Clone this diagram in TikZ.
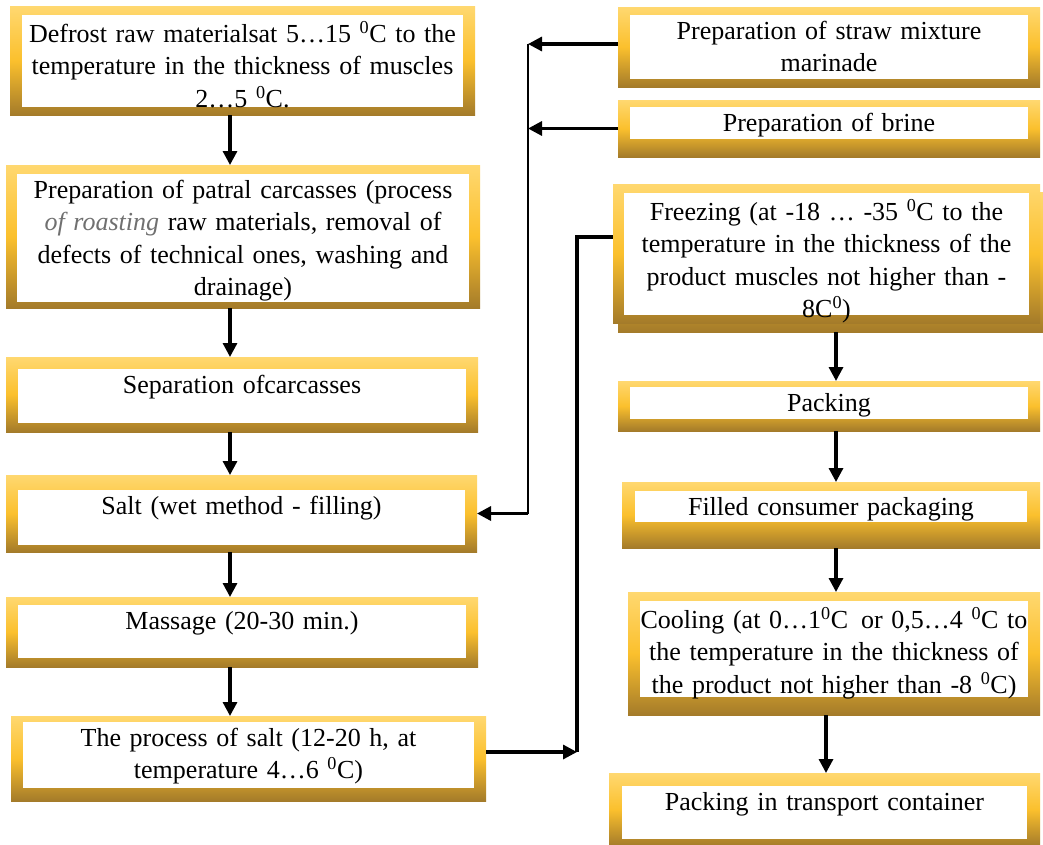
\documentclass[tikz,border=0pt]{standalone}
\usepackage{fontspec}
\setmainfont{Liberation Serif}
\usetikzlibrary{arrows.meta,calc}
\definecolor{gtop}{HTML}{FFD870}
\definecolor{gmid}{HTML}{FBC02D}
\definecolor{gbot}{HTML}{A47B2A}
\definecolor{rgray}{HTML}{707070}
\tikzset{
  gframe/.style={rectangle, inner sep=0pt, outer sep=0pt, draw=none,
    top color=gtop, bottom color=gbot, middle color=gmid},
  txt/.style={inner sep=0pt, outer sep=0pt, align=center,
    font=\fontsize{26}{32.5}\selectfont},
  arr/.style={line width=3.2pt, -{Triangle[width=14pt,length=14pt]}},
  thickline/.style={line width=3.2pt},
  thinline/.style={line width=2pt},
}
% #1 name, #2 x1, #3 y1, #4 x2, #5 y2, #6 side inset, #7 top inset, #8 bottom inset, #9 text
\newcommand\gbox[9]{%
  \node[gframe, minimum width={#4-#2}, minimum height={#5-#3}] (#1) at ({(#2+#4)/2},{(#3+#5)/2}) {};
  \fill[white] ({#2+#6},{#3+#7}) rectangle ({#4-#6},{#5-#8});
  \node[txt, text width={#4-#2}, anchor=north] (#1-t) at ({(#2+#4)/2},{#3+#7+6}) {#9};
}
\begin{document}
\begin{tikzpicture}[x=1pt,y=-1pt]
\useasboundingbox (0,0) rectangle (1043,844);
\fill[white] (0,0) rectangle (1043,844);

% shadow of the freezing box
\node[gframe, minimum width=425, minimum height=140] (Is) at (830.5,262) {};

% left column
\gbox{A}{10}{6}{475}{115}{12}{9}{8}{Defrost raw materialsat 5…15 \textsuperscript{0}C to the\\temperature in the thickness of muscles\\2…5 \textsuperscript{0}C.}
\gbox{B}{6}{165}{480}{308}{11}{9}{6}{Preparation of patral carcasses (process\\{\color{rgray}\itshape of roasting} raw materials, removal of\\defects of technical ones, washing and\\drainage)}
\gbox{C}{6}{357}{478}{432}{12}{12}{9}{Separation ofcarcasses}
\gbox{D}{6}{475}{477}{552}{12}{15}{7}{Salt (wet method - filling)}
\gbox{E}{6}{597}{478}{667}{12}{8}{9}{Massage (20-30 min.)}
\gbox{F}{11}{716}{486}{801}{12}{6}{13}{The process of salt (12-20 h, at\\temperature 4…6 \textsuperscript{0}C)}

% right column
\gbox{G}{618}{7}{1040}{87}{12}{8}{8}{Preparation of straw mixture\\marinade}
\gbox{H}{618}{100}{1040}{157}{12}{7}{18}{Preparation of brine}
\gbox{I}{613}{184}{1040}{323}{11}{9}{8}{Freezing (at -18 … -35 \textsuperscript{0}C to the\\temperature in the thickness of the\\product muscles not higher than -\\8C\textsuperscript{0})}
\gbox{J}{618}{381}{1040}{431}{12}{6}{12}{Packing}
\gbox{K}{622}{482}{1040}{548}{13}{9}{26}{Filled consumer packaging}
\gbox{L}{628}{592}{1040}{715}{12}{9}{18}{Cooling (at 0…1\textsuperscript{0}C\, or 0,5…4 \textsuperscript{0}C to\\the temperature in the thickness of\\the product not higher than -8 \textsuperscript{0}C)}
\gbox{M}{609}{773}{1040}{846}{13}{13}{7}{Packing in transport container}

% connectors, left column
\coordinate (lx) at (230,0);
\draw[arr] (A.south -| lx) -- (B.north -| lx);
\draw[arr] (B.south -| lx) -- (C.north -| lx);
\draw[arr] (C.south -| lx) -- (D.north -| lx);
\draw[arr] (D.south -| lx) -- (E.north -| lx);
\draw[arr] (E.south -| lx) -- (F.north -| lx);

% connectors, right column
\coordinate (rx) at (836,0);
\coordinate (rx2) at (826,0);
\draw[arr] (Is.south -| rx) -- (J.north -| rx);
\draw[arr] (J.south -| rx) -- (K.north -| rx);
\draw[arr] (K.south -| rx) -- (L.north -| rx);
\draw[arr] (L.south -| rx2) -- (M.north -| rx2);

% marinade and brine to salting
\coordinate (v1) at (528,44);
\draw[arr] (G.west |- v1) -- (v1);
\draw[arr] (H.west) -- (H.west -| v1);
\draw[thinline] (v1) -- (v1 |- D.east);
\draw[arr] (v1 |- D.east) -- (D.east);

% salting process to freezing
\coordinate (v2) at (577,752);
\coordinate (v2t) at (577,237);
\draw[arr] (F.east |- v2) -- (v2);
\draw[thickline] (v2) -- (v2t) -- (I.west |- v2t);
\end{tikzpicture}
\end{document}
